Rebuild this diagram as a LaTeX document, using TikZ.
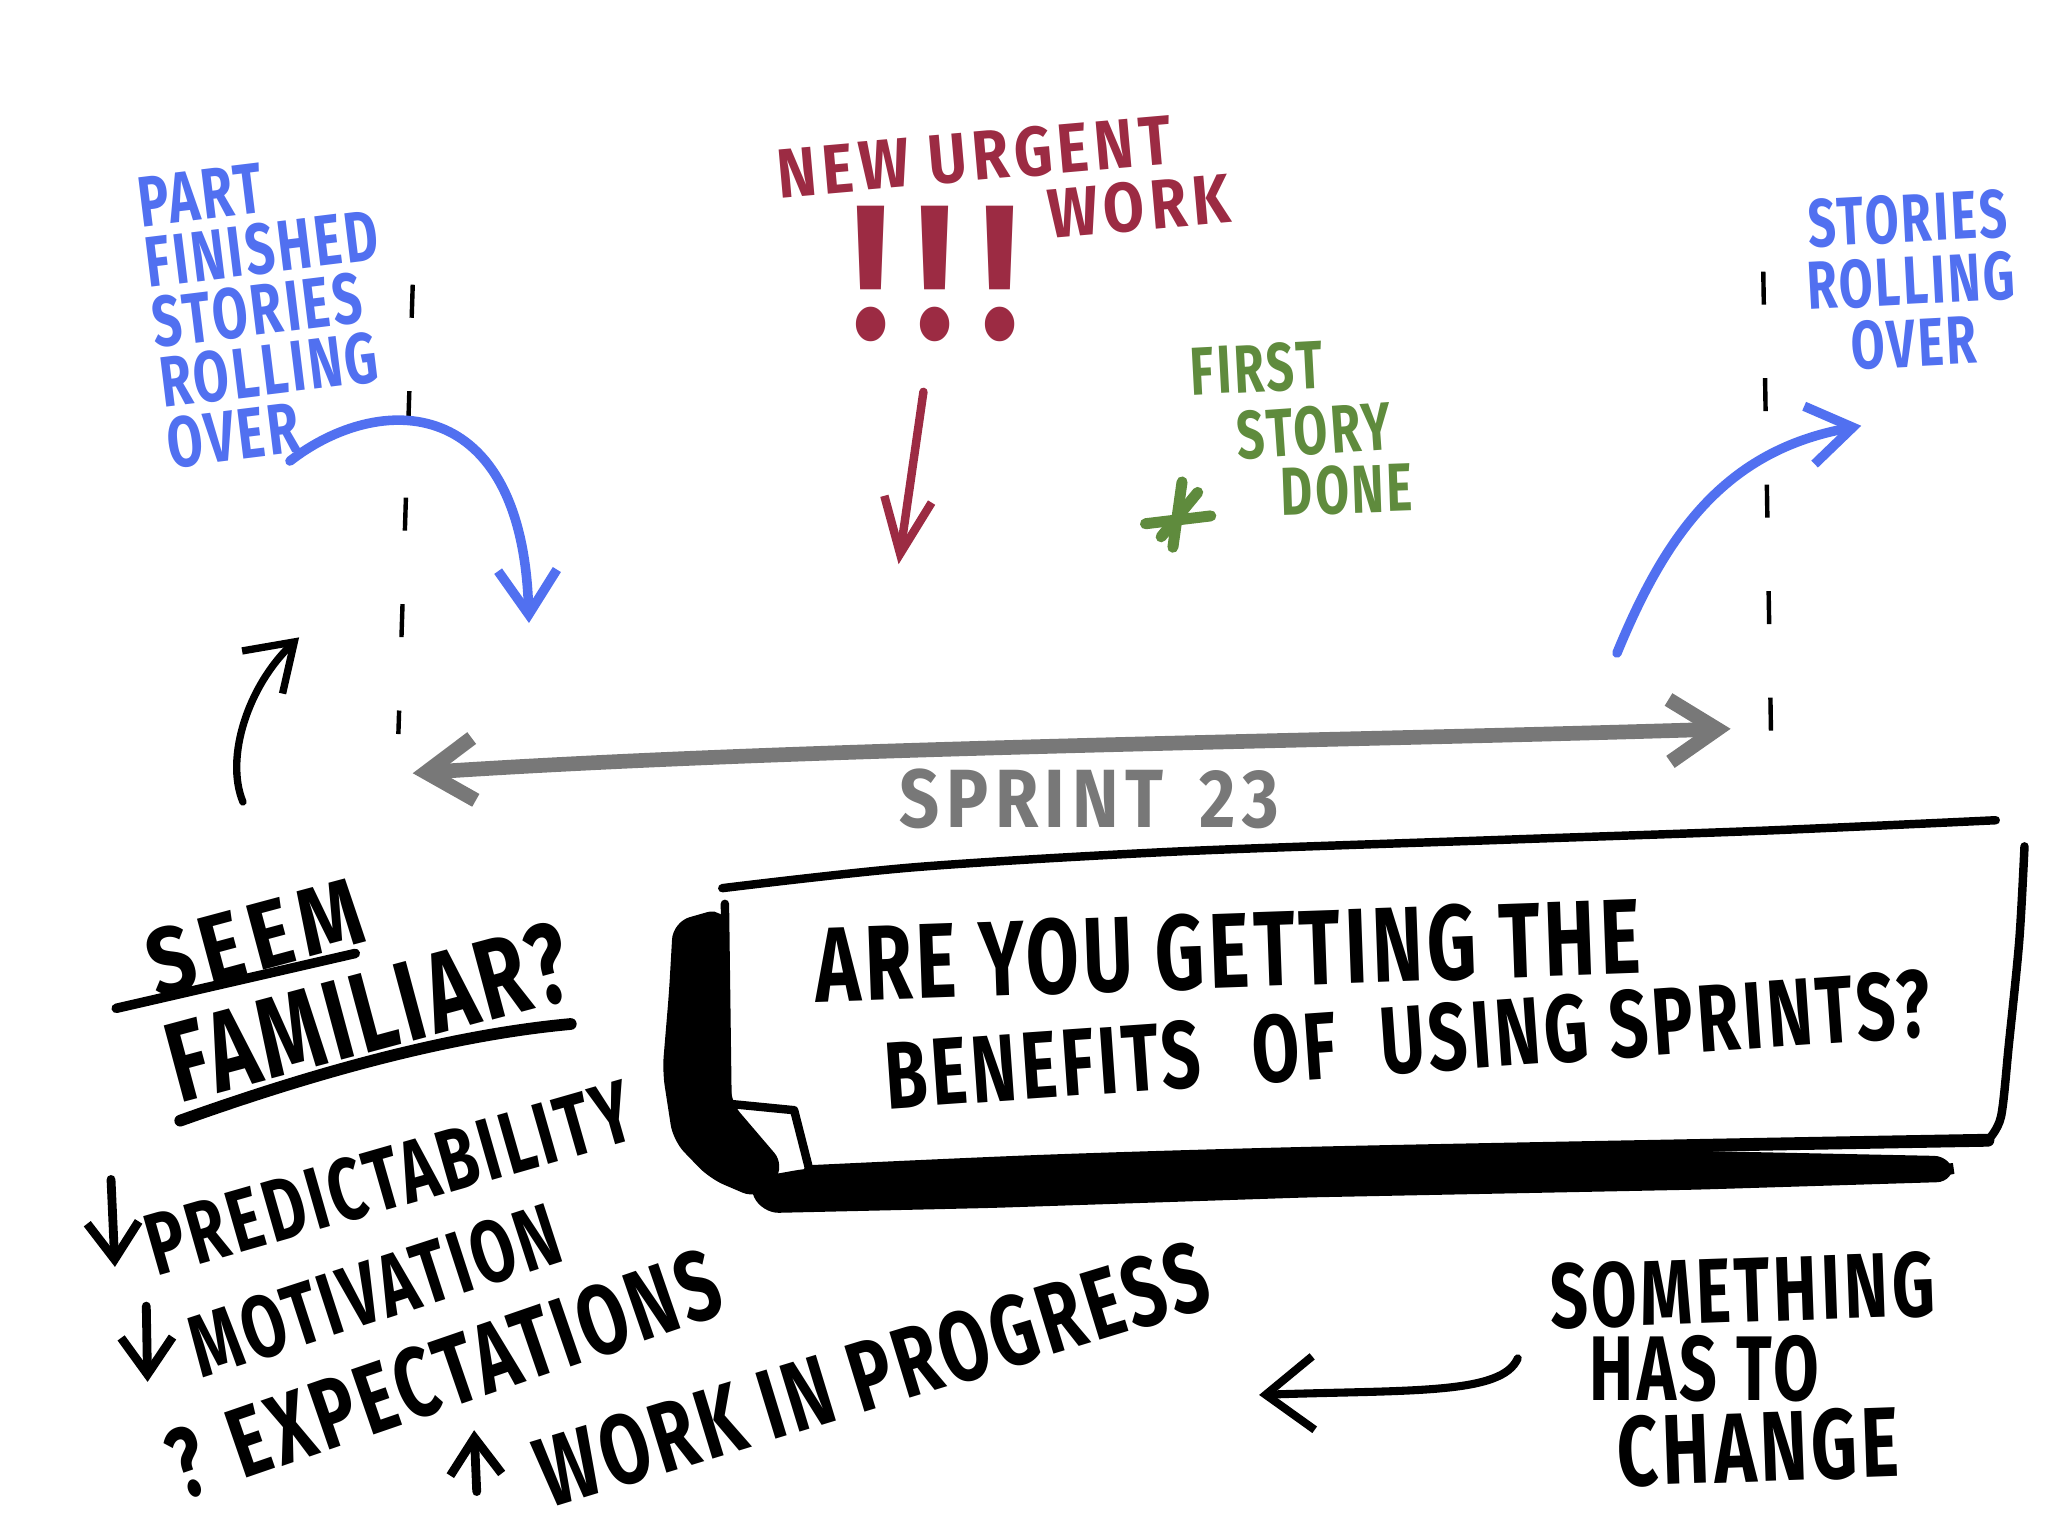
\documentclass[tikz,border=0pt]{standalone}
\usepackage{fontspec}
\newfontfamily\handfont{Fira Sans}[FakeStretch=0.72,LetterSpace=4]
\newfontfamily\handwide{Fira Sans}[FakeStretch=0.85,LetterSpace=8]
\newcommand{\handsize}[2]{\handfont\bfseries\fontsize{#1}{#2}\selectfont}
\newcommand{\widesize}[2]{\handwide\bfseries\fontsize{#1}{#2}\selectfont}
\usepackage{tikz}
\usetikzlibrary{arrows.meta,positioning}
\definecolor{MarkerBlue}{HTML}{5170F0}
\definecolor{MarkerRed}{HTML}{9C2B43}
\definecolor{MarkerGreen}{HTML}{5F8B3D}
\definecolor{MarkerGrey}{HTML}{787878}

\begin{document}
\begin{tikzpicture}[x=0.125mm,y=-0.125mm,
bluetxt/.style={inner sep=0pt,align=center,text=MarkerBlue,font=\handsize{19.5pt}{16.5pt}},
redtxt/.style={inner sep=0pt,align=center,text=MarkerRed,font=\widesize{19pt}{20pt}},
greentxt/.style={inner sep=0pt,align=center,text=MarkerGreen,font=\handsize{18.5pt}{20pt}},
greytxt/.style={inner sep=0pt,align=center,text=MarkerGrey,font=\widesize{22.5pt}{23pt}},
blacktxt/.style={inner sep=0pt,align=center,text=black,font=\handsize{29pt}{30pt}},
listtxt/.style={inner sep=0pt,align=center,text=black,font=\handsize{24pt}{24pt}},
bluearr/.style={draw=MarkerBlue,line width=2.6pt,line cap=round,line join=round,-{Straight Barb[length=12pt,width=16pt]}},
redarr/.style={draw=MarkerRed,line width=2.3pt,line cap=round,line join=round,-{Straight Barb[length=15pt,width=13pt]}},
greyarr/.style={draw=MarkerGrey,line width=4pt,line cap=round,line join=round,{Straight Barb[length=13pt,width=17pt]}-{Straight Barb[length=13pt,width=17pt]}},
blackarr/.style={draw=black,line width=2pt,line cap=round,line join=round,-{Straight Barb[length=10pt,width=14pt]}},
sprintmark/.style={draw=black,line width=1.2pt,dash pattern=on 9pt off 20pt},
boxline/.style={draw=black,line width=2.3pt,line cap=round,line join=round},
shade/.style={fill=black,draw=black,line width=2pt,rounded corners=4pt},
uline/.style={draw=black,line width=2.6pt,line cap=round},
greenstroke/.style={draw=MarkerGreen,line width=3pt,line cap=round}
]
\useasboundingbox (0,0) rectangle (1568,1176);

\node[bluetxt,align=left,rotate=7] (partfin) at (206,237) {PART\\FINISHED\\STORIES\\ROLLING\\OVER};
\node[bluetxt,font=\handsize{18.5pt}{17pt},rotate=3] (rollover) at (1463,215) {STORIES\\ROLLING\\OVER};

\node[redtxt,rotate=5] (urgent) at (746,120) {NEW URGENT};
\node[redtxt,rotate=5] (work) at (872,158) {WORK};
\node[redtxt,font=\widesize{52pt}{52pt}] (bang) at (716,210) {!\hspace{7pt}!\hspace{7pt}!};

\node[greentxt,rotate=3] (first) at (962,282) {FIRST};
\node[greentxt,rotate=4] (story) at (1006,330) {STORY};
\node[greentxt,rotate=2] (done) at (1031,375) {DONE};
\coordinate (star) at (902,395);
\draw[greenstroke] (star) ++(3,-26) -- ++(-7,50);
\draw[greenstroke] (star) ++(-25,6) -- ++(50,-6);
\draw[greenstroke] (star) ++(15,-18) -- ++(-28,34);

\coordinate (ltop) at (316,218);
\coordinate (lbot) at (305,562);
\coordinate (rtop) at (1350,208);
\coordinate (rbot) at (1356,566);
\draw[sprintmark] (ltop) -- (lbot);
\draw[sprintmark] (rtop) -- (rbot);

\coordinate (lrollA) at (222,353);
\coordinate (lrollB) at (405,477);
\draw[bluearr] (lrollA) .. controls (290,300) and (400,300) .. (lrollB);
\coordinate (rrollA) at (1238,500);
\coordinate (rrollB) at (1425,326);
\draw[bluearr] (rrollA) .. controls (1275,410) and (1320,345) .. (rrollB);

\coordinate (urgA) at (707,300);
\coordinate (urgB) at (688,432);
\draw[redarr] (urgA) -- (urgB);

\coordinate (sprintL) at (316,592);
\coordinate (sprintR) at (1325,558);
\draw[greyarr] (sprintL) .. controls (620,572) and (1000,568) .. (sprintR);
\node[greytxt] (sprint) at (834,612) {SPRINT\hspace{10pt}23};

\coordinate (upA) at (186,614);
\coordinate (upB) at (229,488);
\draw[blackarr,-{Straight Barb[length=12pt,width=16pt]}] (upA) .. controls (172,580) and (190,525) .. (upB);

\fill[shade] (518,708) -- (553,698) -- (557,845) -- (598,893) -- (580,915) -- (545,900) -- (518,872) -- (510,820) -- (515,760) -- cycle;
\fill[shade] (575,905) -- (620,897) -- (1000,889) -- (1300,884) -- (1492,888) -- (1494,902) -- (1300,908) -- (1000,914) -- (760,922) -- (585,926) -- cycle;
\draw[boxline] plot[smooth,tension=0.5] coordinates {(553,680) (700,664) (900,652) (1150,643) (1350,636) (1528,628)};
\draw[boxline] plot[smooth,tension=0.5] coordinates {(1550,648) (1546,720) (1538,800) (1532,855) (1522,873)};
\draw[boxline,line width=3.5pt] plot[smooth,tension=0.5] coordinates {(1522,873) (1300,877) (1000,883) (800,889) (620,897)};
\draw[boxline] (555,692) -- (557,845) -- (608,850) -- (620,897);
\node[blacktxt,rotate=2] (q1) at (940,728) {ARE YOU GETTING THE};
\node[blacktxt,font=\handsize{26pt}{28pt},rotate=4] (q2) at (1078,796) {BENEFITS\hspace{14pt}OF\hspace{12pt}USING SPRINTS?};

\node[blacktxt,font=\widesize{26pt}{26pt},rotate=15] (seem) at (195,718) {SEEM};
\node[blacktxt,font=\handsize{31pt}{31pt},rotate=15] (familiar) at (282,775) {FAMILIAR?};
\draw[uline] (89,772) -- (272,730);
\draw[uline,line width=3.2pt] (138,858) .. controls (250,818) and (350,792) .. (437,784);

\node[listtxt,rotate=16] (predict) at (298,902) {PREDICTABILITY};
\node[listtxt,rotate=18] (motiv) at (287,988) {MOTIVATION};
\node[listtxt,font=\handsize{27pt}{27pt},rotate=19] (expect) at (340,1052) {?\hspace{8pt}EXPECTATIONS};
\node[listtxt,font=\handsize{27pt}{27pt},rotate=17] (wip) at (668,1052) {WORK IN PROGRESS};
\coordinate (d1a) at (85,903);
\coordinate (d1b) at (88,970);
\draw[blackarr,line width=2.4pt] (d1a) -- (d1b);
\coordinate (d2a) at (112,1000);
\coordinate (d2b) at (113,1058);
\draw[blackarr,line width=2.4pt] (d2a) -- (d2b);
\coordinate (u1a) at (365,1142);
\coordinate (u1b) at (363,1095);
\draw[blackarr,line width=2.4pt] (u1a) -- (u1b);

\node[blacktxt,font=\handsize{25pt}{25pt},rotate=2] (something) at (1334,988) {SOMETHING};
\node[blacktxt,font=\handsize{25pt}{25pt}] (hasto) at (1305,1048) {HAS TO};
\node[blacktxt,font=\handsize{27pt}{27pt},rotate=2] (change) at (1346,1108) {CHANGE};
\coordinate (chA) at (1162,1040);
\coordinate (chB) at (964,1068);
\draw[blackarr,line width=2.2pt,-{Straight Barb[length=13pt,width=20pt]}] (chA) .. controls (1150,1068) and (1080,1064) .. (chB);
\end{tikzpicture}
\end{document}
